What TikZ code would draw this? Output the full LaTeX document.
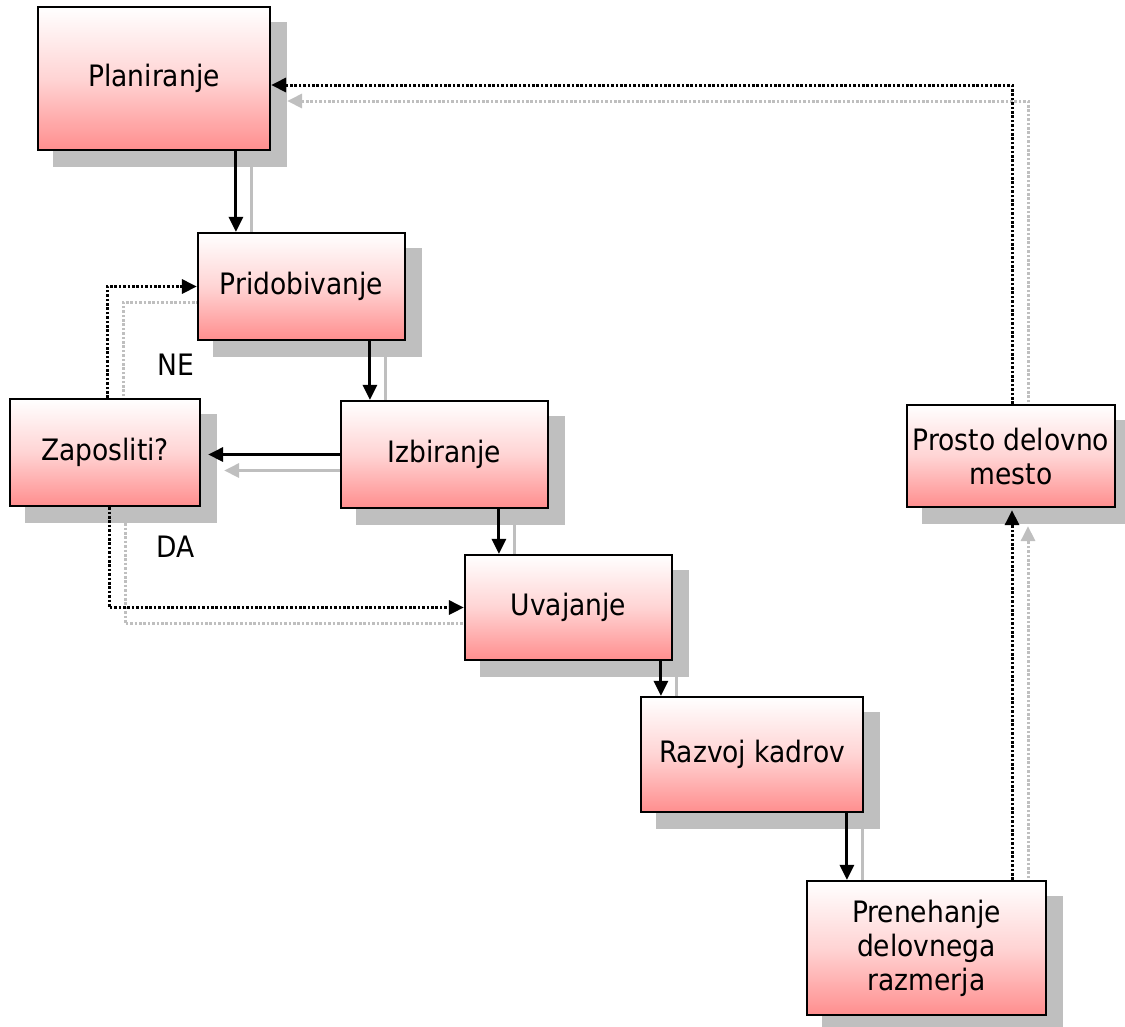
\documentclass[tikz,border=0pt]{standalone}
\usepackage{fontspec}
\setmainfont{DejaVu Sans Condensed}
\usetikzlibrary{arrows.meta,calc}
\pgfdeclarelayer{bg}
\pgfsetlayers{bg,main}
\definecolor{shd}{RGB}{191,191,191}
\definecolor{pinkb}{RGB}{255,142,142}
\definecolor{pinkm}{RGB}{255,212,212}
\tikzset{
  box/.style={draw=black, line width=2.2pt, top color=white, bottom color=pinkb, middle color=pinkm,
    inner sep=0pt, align=center, font=\fontsize{29.5pt}{34pt}\selectfont},
  lbl/.style={inner sep=0pt, font=\fontsize{29.5pt}{34pt}\selectfont},
  conn/.style={line width=3pt, -{Triangle[length=15pt,width=14pt]}},
  dotconn/.style={conn, dash pattern=on 2.6pt off 1.8pt},
  boxshadow/.style={fill=shd, draw=none}
}
\newcommand{\allconns}[2]{%
  \draw[conn,#1] (c1 |- plan.south) -- (c1);
  \draw[conn,#1] (c2 |- pri.south) -- (c2);
  \draw[conn,#1,shorten >=7pt] (izb.west) -- (izb.west -| zap.east);
  \draw[conn,#1] (c4 |- izb.south) -- (c4);
  \draw[conn,#1] (c5 |- uva.south) -- (c5);
  \draw[conn,#1] (c6 |- raz.south) -- (c6);
  \draw[dotconn,#2] ([xshift=2pt]zap.north) |- (pri.west);
  \draw[dotconn,#2] ([xshift=4pt]zap.south) |- (uva.west);
  \draw[dotconn,#2,shorten >=2pt] (c7 |- pre.north) -- (c7);
  \draw[dotconn,#2] ([xshift=1pt]pro.north) |- (c8);
}
\newcommand{\boxshadow}[1]{%
  \fill[boxshadow] ([shift={(16pt,-16pt)}]#1.south west) rectangle ([shift={(16pt,-16pt)}]#1.north east);
}
\begin{document}
\begin{tikzpicture}[x=1pt,y=-1pt]
\useasboundingbox (0,0) rectangle (1125,1026);
% boxes
\node[box, minimum width=232pt, minimum height=143pt] (plan) at (154,78.5) {Planiranje};
\node[box, minimum width=207pt, minimum height=107pt] (pri) at (301.5,286.5) {Pridobivanje};
\node[box, minimum width=207pt, minimum height=107pt] (izb) at (444.5,454.5) {Izbiranje};
\node[box, minimum width=190pt, minimum height=107pt] (zap) at (105,452.5) {Zaposliti?};
\node[box, minimum width=207pt, minimum height=105pt] (uva) at (568.5,607.5) {Uvajanje};
\node[box, minimum width=222pt, minimum height=115pt] (raz) at (752,754.5) {Razvoj kadrov};
\node[box, minimum width=239pt, minimum height=134pt] (pre) at (926.5,948) {Prenehanje\\delovnega\\razmerja};
\node[box, minimum width=208pt, minimum height=102pt] (pro) at (1011,456) {Prosto delovno\\mesto};
% labels
\node[lbl] (ne) at (176,364.5) {NE};
\node[lbl] (da) at (176,546.5) {DA};
% helper coordinates
\coordinate (c1) at ([xshift=39pt]pri.north west);
\coordinate (c2) at ([xshift=30pt]izb.north west);
\coordinate (c4) at ([xshift=35pt]uva.north west);
\coordinate (c5) at ([xshift=21pt]raz.north west);
\coordinate (c6) at ([xshift=41pt]pre.north west);
\coordinate (c7) at ([xshift=1pt]pro.south);
\coordinate (c8) at ([yshift=-6.5pt]plan.east);
% shadows
\begin{pgfonlayer}{bg}
  \boxshadow{plan}\boxshadow{pri}\boxshadow{izb}\boxshadow{zap}
  \boxshadow{uva}\boxshadow{raz}\boxshadow{pre}\boxshadow{pro}
  \begin{scope}[transform canvas={xshift=16pt,yshift=-16pt}]
    \allconns{shd}{shd}
  \end{scope}
\end{pgfonlayer}
% connectors
\allconns{black}{black}
\end{tikzpicture}
\end{document}
